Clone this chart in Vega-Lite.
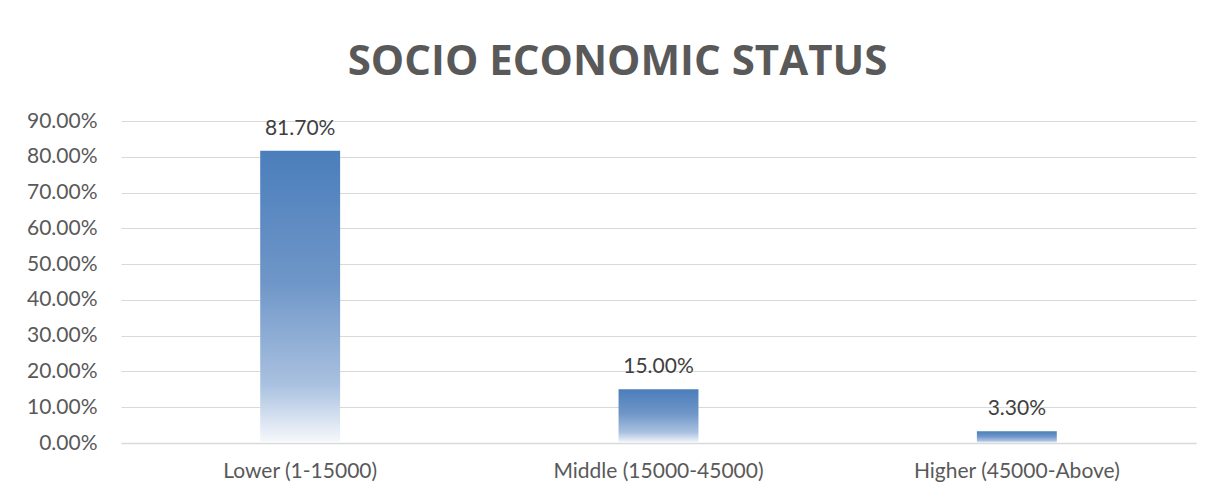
{
  "$schema": "https://vega.github.io/schema/vega-lite/v6.json",
  "width": 1075,
  "height": 322,
  "autosize": {"type": "none"},
  "padding": {"left": 121, "top": 121, "right": 24, "bottom": 57},
  "background": "white",
  "title": {
    "text": "SOCIO ECONOMIC STATUS",
    "font": "Open Sans",
    "fontWeight": "bold",
    "fontSize": 42,
    "color": "#595959",
    "anchor": "middle",
    "frame": "group",
    "dx": -41,
    "offset": 26
  },
  "data": {
    "values": [
      {"category": "Lower (1-15000)", "value": 0.817},
      {"category": "Middle (15000-45000)", "value": 0.15},
      {"category": "Higher (45000-Above)", "value": 0.033}
    ]
  },
  "encoding": {
    "x": {
      "field": "category",
      "type": "nominal",
      "sort": null,
      "scale": {"paddingInner": 0, "paddingOuter": 0},
      "axis": {
        "title": null,
        "labelAngle": 0,
        "labelLimit": 0,
        "ticks": false,
        "domainColor": "#d9d9d9",
        "domainWidth": 1.5,
        "labelFont": "Lato",
        "labelFontSize": 21,
        "labelColor": "#595959",
        "labelPadding": 17
      }
    },
    "y": {
      "field": "value",
      "type": "quantitative",
      "scale": {"domain": [0, 0.9]},
      "axis": {
        "title": null,
        "format": ".2%",
        "values": [0, 0.1, 0.2, 0.3, 0.4, 0.5, 0.6, 0.7, 0.8, 0.9],
        "domain": false,
        "ticks": false,
        "gridColor": "#d9d9d9",
        "gridWidth": 1,
        "labelFont": "Lato",
        "labelFontSize": 21,
        "labelColor": "#595959",
        "labelPadding": 24
      }
    }
  },
  "layer": [
    {
      "mark": {
        "type": "bar",
        "width": {"band": 0.223},
        "color": {
          "gradient": "linear",
          "x1": 0, "y1": 0, "x2": 0, "y2": 1,
          "stops": [
            {"offset": 0, "color": "#4a7ebb"},
            {"offset": 0.45, "color": "#6f96c8"},
            {"offset": 0.8, "color": "#a9c1e0"},
            {"offset": 1, "color": "#f7f9fc"}
          ]
        }
      }
    },
    {
      "mark": {
        "type": "text",
        "dy": -12,
        "baseline": "bottom",
        "font": "Lato",
        "fontSize": 21,
        "color": "#404040"
      },
      "encoding": {
        "text": {"field": "value", "type": "quantitative", "format": ".2%"}
      }
    }
  ],
  "config": {
    "view": {"stroke": null}
  }
}
